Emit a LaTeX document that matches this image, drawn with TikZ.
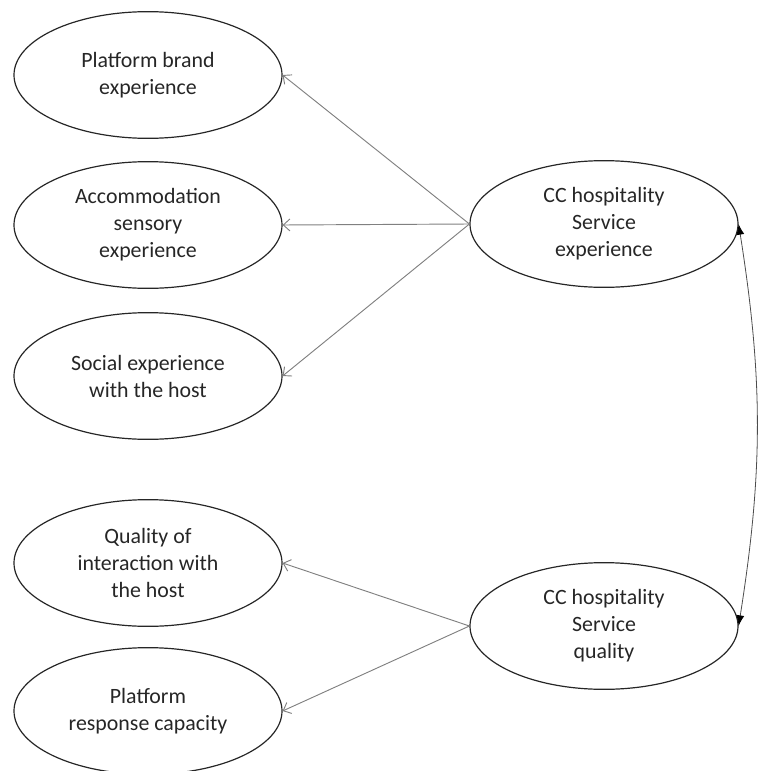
\documentclass[tikz,border=0pt]{standalone}
\usepackage{fontspec}
\setmainfont{Carlito}
\usetikzlibrary{arrows.meta,shapes.geometric}

\begin{document}
\begin{tikzpicture}[x=0.75pt, y=-0.75pt,
    latent/.style={ellipse, draw=black!85, line width=0.9pt, minimum width=201pt,
        minimum height=95pt, inner sep=0pt, align=center, text=black!85,
        font=\fontsize{16.4}{20.25}\selectfont},
    load/.style={draw=black!50, line width=0.7pt, -{Straight Barb[length=5pt,width=9pt]}},
    cov/.style={draw=black!70, line width=0.6pt,
        {Latex[length=8pt,width=6pt,color=black]}-{Latex[length=8pt,width=6pt,color=black]}}]
    \useasboundingbox (0,0) rectangle (758,771);
    % left column
    \node[latent] (pbe) at (148,75) {Platform brand\\experience};
    \node[latent] (ase) at (148,225) {Accommodation\\sensory\\experience};
    \node[latent] (seh) at (148,376) {Social experience\\with the host};
    \node[latent] (qih) at (148,563) {Quality of\\interaction with\\the host};
    \node[latent] (prc) at (148,711) {Platform\\response capacity};
    % right column
    \node[latent] (cse) at (604,224) {CC hospitality\\Service\\experience};
    \node[latent] (csq) at (604,626) {CC hospitality\\Service\\quality};
    % paths
    \draw[load] (cse.west) -- (pbe.east);
    \draw[load] (cse.west) -- (ase.east);
    \draw[load] (cse.west) -- (seh.east);
    \draw[load] (csq.west) -- (qih.east);
    \draw[load] (csq.west) -- (prc.east);
    \draw[cov] (cse.east) to[bend left=9] (csq.east);
\end{tikzpicture}
\end{document}
